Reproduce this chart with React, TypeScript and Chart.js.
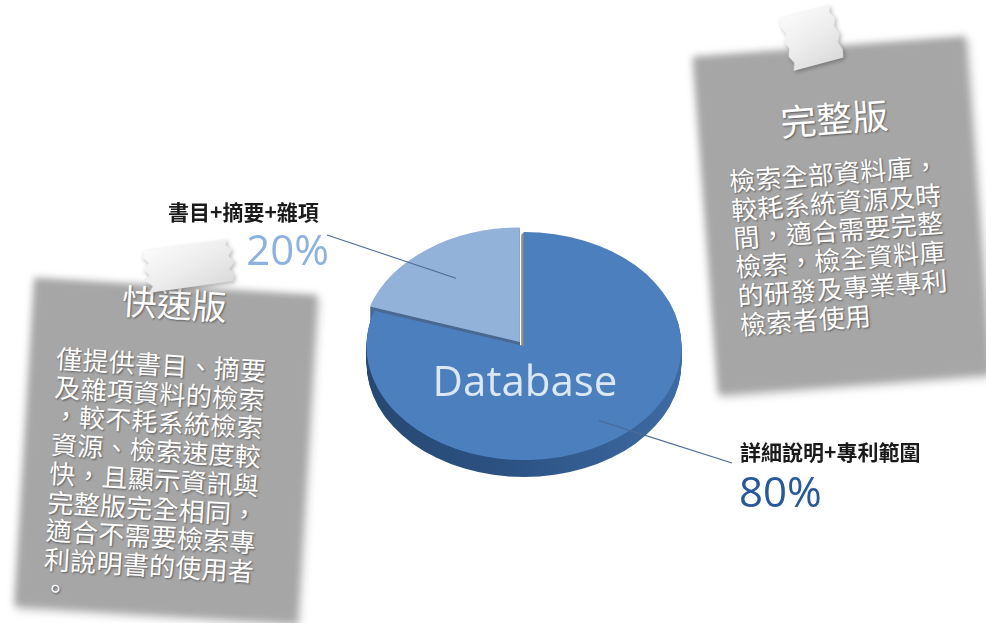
import React, { useEffect, useRef } from 'react';
import Chart from 'chart.js/auto';

const categories = ['詳細說明+專利範圍', '書目+摘要+雜項'];
const values = [80, 20];
const sliceColors = ['#4c7fbe', '#93b2da'];
const sideColors = ['#2f5789', '#4a6991'];
const sliceOffsets = [0, 28];
const percentColors = ['#27589a', '#8db2df'];
const centerLabel = 'Database';

const fullTitle = '完整版';
const fullLines = ['檢索全部資料庫，', '較耗系統資源及時', '間，適合需要完整', '檢索，檢全資料庫', '的研發及專業專利', '檢索者使用'];
const quickTitle = '快速版';
const quickLines = ['僅提供書目、摘要', '及雜項資料的檢索', '，較不耗系統檢索', '資源、檢索速度較', '快，且顯示資訊與', '完整版完全相同，', '適合不需要檢索專', '利說明書的使用者', '。'];

const K = 0.724;
const DEPTH = 17;

const labelLayout = [
  { anchor: 0.81, lineEnd: [732, 463], textX: 740, textY: 452, pctX: 739, pctY: 507, pctAlign: 'left' },
  { anchor: 0.69, lineEnd: [327, 235], textX: 168, textY: 212, pctX: 329, pctY: 265, pctAlign: 'right' },
];

const pie3d = {
  id: 'pie3d',
  beforeDatasetsDraw(chart: any) {
    const meta = chart.getDatasetMeta(0);
    const ctx = chart.ctx as CanvasRenderingContext2D;
    const a0: any = meta.data[0];
    const cx = a0.x, cy = a0.y, r = a0.outerRadius;
    const gBig = ctx.createLinearGradient(cx - r, 0, cx + r, 0);
    gBig.addColorStop(0, '#274872');
    gBig.addColorStop(0.45, '#2c5283');
    gBig.addColorStop(1, '#3d6ba3');
    for (let i = DEPTH; i >= 1; i--) {
      ctx.save();
      ctx.translate(0, i);
      ctx.translate(cx, cy);
      ctx.scale(1, K);
      ctx.translate(-cx, -cy);
      meta.data.forEach((arc: any, idx: number) => {
        const half = (arc.startAngle + arc.endAngle) / 2;
        const off = (arc.options.offset || 0) / 4;
        const ox = arc.x + Math.cos(half) * off;
        const oy = arc.y + Math.sin(half) * off;
        ctx.fillStyle = idx === 0 ? gBig : sideColors[idx];
        ctx.beginPath();
        ctx.moveTo(ox, oy);
        ctx.arc(ox, oy, arc.outerRadius, arc.startAngle, arc.endAngle);
        ctx.closePath();
        ctx.fill();
      });
      ctx.restore();
    }
    // cut face of the large slice, seen where the small slice is pulled away
    const big: any = meta.data[0];
    const ex = cx + Math.cos(big.startAngle) * r;
    const ey = cy + Math.sin(big.startAngle) * r * K;
    const gCut = ctx.createLinearGradient(cx - 4, 0, cx, 0);
    gCut.addColorStop(0, '#b8b8b8');
    gCut.addColorStop(1, '#7a7a7a');
    ctx.fillStyle = gCut;
    ctx.beginPath();
    ctx.moveTo(ex, ey);
    ctx.lineTo(ex - 3, ey + 3);
    ctx.lineTo(cx - 3, cy + 4);
    ctx.lineTo(cx, cy);
    ctx.closePath();
    ctx.fill();

    ctx.save();
    ctx.translate(cx, cy);
    ctx.scale(1, K);
    ctx.translate(-cx, -cy);
  },
  afterDatasetsDraw(chart: any) {
    const ctx = chart.ctx as CanvasRenderingContext2D;
    ctx.restore();
    const meta = chart.getDatasetMeta(0);
    const a0: any = meta.data[0];
    const cx = a0.x, cy = a0.y;
    ctx.save();
    ctx.fillStyle = '#dce7f4';
    ctx.font = '42px "Open Sans", "Noto Sans", sans-serif';
    ctx.textAlign = 'center';
    ctx.textBaseline = 'alphabetic';
    ctx.fillText(centerLabel, cx + 1, 396);

    meta.data.forEach((arc: any, idx: number) => {
      const L = labelLayout[idx];
      const half = (arc.startAngle + arc.endAngle) / 2;
      const off = (arc.options.offset || 0) / 4;
      const rr = arc.outerRadius * L.anchor;
      const ax = cx + Math.cos(half) * (off + rr);
      const ay = cy + Math.sin(half) * (off + rr) * K;
      ctx.strokeStyle = '#4d6b96';
      ctx.lineWidth = 1.3;
      ctx.beginPath();
      ctx.moveTo(ax, ay);
      ctx.lineTo(L.lineEnd[0], L.lineEnd[1]);
      ctx.stroke();

      ctx.fillStyle = '#1a1a1a';
      ctx.font = 'bold 21px "Noto Sans CJK TC", sans-serif';
      ctx.textAlign = 'left';
      ctx.textBaseline = 'middle';
      ctx.fillText(categories[idx], L.textX, L.textY);

      ctx.fillStyle = percentColors[idx];
      ctx.font = '42px "Open Sans", "Noto Sans", sans-serif';
      ctx.textAlign = L.pctAlign as CanvasTextAlign;
      ctx.textBaseline = 'alphabetic';
      ctx.fillText(values[idx] + '%', L.pctX, L.pctY);
    });
    ctx.restore();
  },
};

type NoteProps = {
  cx: number; cy: number; w: number; h: number; rot: number;
  title: string; lines: string[]; titleTop: number; bodyTop: number; bodyLeft: number;
  titleSize: number;
};

function Note(p: NoteProps) {
  return (
    <div style={{
      position: 'absolute', left: p.cx - p.w / 2, top: p.cy - p.h / 2, width: p.w, height: p.h,
      transform: `rotate(${p.rot}deg)`, transformOrigin: '50% 50%',
    }}>
      <div style={{
        position: 'absolute', inset: 0, background: '#a6a6a6',
        boxShadow: '2px 3px 6px rgba(0,0,0,0.3)', filter: 'blur(3.5px)',
      }} />
      <div style={{
        position: 'absolute', left: 0, width: p.w, top: p.titleTop, textAlign: 'center',
        color: '#ffffff', fontFamily: '"Noto Sans CJK TC", sans-serif', fontSize: p.titleSize,
        lineHeight: `${p.titleSize * 1.2}px`, textShadow: '1px 1px 2px rgba(0,0,0,0.45)', whiteSpace: 'nowrap',
      }}>{p.title}</div>
      <div style={{
        position: 'absolute', left: p.bodyLeft, top: p.bodyTop,
        color: '#ffffff', fontFamily: '"Noto Sans CJK TC", sans-serif', fontSize: 26,
        lineHeight: '28.7px', textShadow: '1px 1px 2px rgba(0,0,0,0.45)', whiteSpace: 'nowrap',
        letterSpacing: '0.3px',
      }}>
        {p.lines.map((l, i) => <div key={i}>{l}</div>)}
      </div>
    </div>
  );
}

function Tape({ cx, cy, w, h, rot }: { cx: number; cy: number; w: number; h: number; rot: number }) {
  return (
    <div style={{
      position: 'absolute', left: cx - w / 2, top: cy - h / 2, width: w, height: h,
      transform: `rotate(${rot}deg)`, filter: 'drop-shadow(1px 2px 2px rgba(0,0,0,0.3))',
    }}>
      <div style={{
        position: 'absolute', inset: 0,
        background: 'linear-gradient(160deg, #fbfbfb 0%, #ededed 50%, #dadada 100%)',
        clipPath: 'polygon(4% 0%, 96% 0%, 92% 12%, 99% 25%, 94% 40%, 100% 55%, 93% 70%, 98% 85%, 95% 100%, 3% 100%, 8% 86%, 1% 72%, 6% 58%, 0% 44%, 7% 30%, 1% 15%)',
      }} />
    </div>
  );
}

export default function App() {
  const ref = useRef<HTMLCanvasElement>(null);
  useEffect(() => {
    if (!ref.current) return;
    const chart = new Chart(ref.current, {
      type: 'pie',
      data: {
        labels: categories,
        datasets: [{
          data: values,
          backgroundColor: sliceColors,
          borderWidth: 0,
          offset: sliceOffsets,
          radius: 157.5,
        } as any],
      },
      options: {
        responsive: false,
        animation: false,
        radius: 157.5,
        layout: { padding: { left: 199, right: 137, top: 150, bottom: 81 } },
        plugins: { legend: { display: false }, tooltip: { enabled: false }, title: { display: false } },
        events: [],
      } as any,
      plugins: [pie3d],
    });
    return () => chart.destroy();
  }, []);

  return (
    <div style={{ position: 'fixed', left: 0, top: 0, width: 986, height: 623, overflow: 'hidden', background: '#ffffff' }}>
      <Note cx={841.5} cy={215} w={273} h={338} rot={-4.3} title={fullTitle} lines={fullLines}
        titleTop={49} titleSize={36} bodyTop={112} bodyLeft={27} />
      <Note cx={165.75} cy={450} w={283} h={328} rot={3.5} title={quickTitle} lines={quickLines}
        titleTop={-5} titleSize={35} bodyTop={64} bodyLeft={27} />
      <Tape cx={812} cy={38} w={56} h={54} rot={-15} />
      <Tape cx={189} cy={266} w={92} h={42} rot={-8} />
      <canvas ref={ref} width={986} height={623} style={{ position: 'absolute', left: 0, top: 0, width: 986, height: 623 }} />
    </div>
  );
}
